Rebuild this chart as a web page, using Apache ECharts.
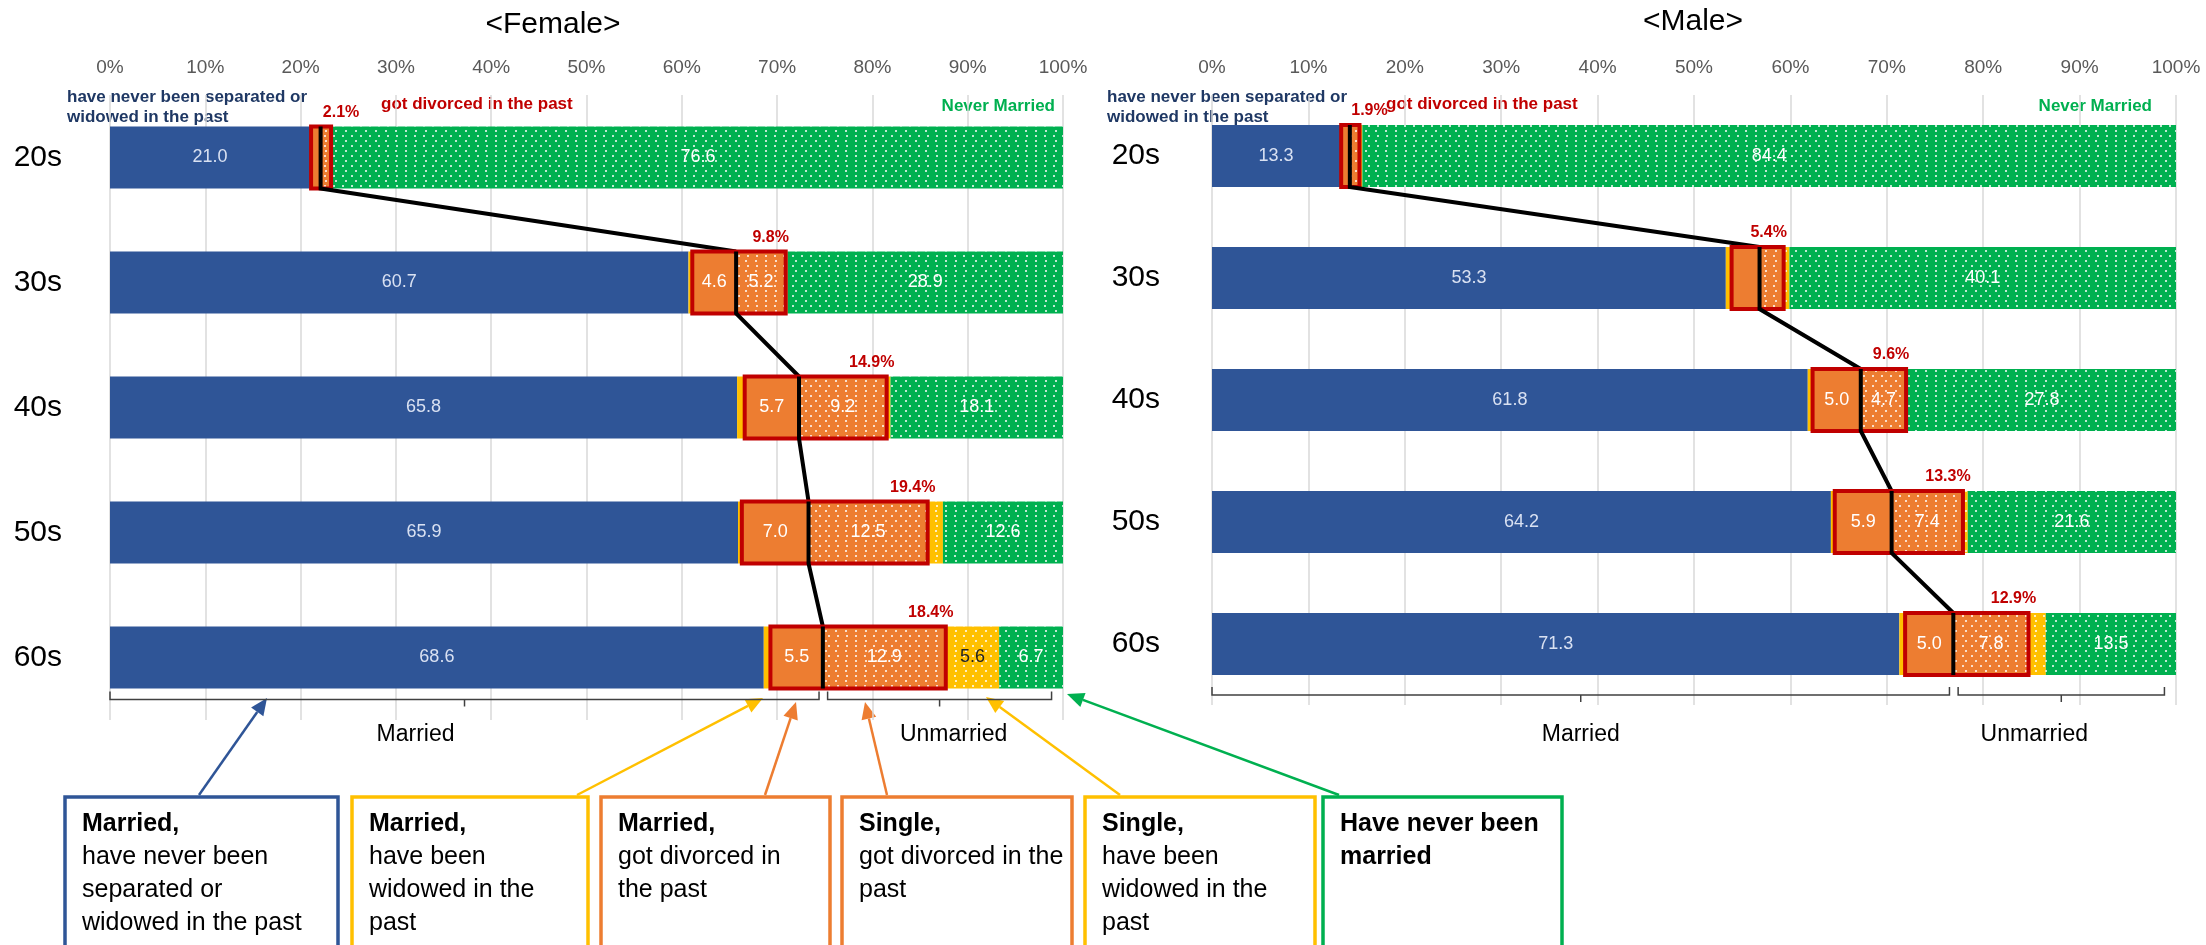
<!DOCTYPE html>
<html><head><meta charset="utf-8">
<script src="https://cdn.jsdelivr.net/npm/echarts@6/dist/echarts.min.js"></script>
<style>html,body{margin:0;padding:0;background:#fff}#c{width:2206px;height:945px}</style>
</head><body><div id="c"></div>
<script>
// ---------------- data ----------------
const ages = ['20s', '30s', '40s', '50s', '60s'];
const xTicks = [0, 10, 20, 30, 40, 50, 60, 70, 80, 90, 100];

// Female (%)
const fMarriedNeverSep  = [21.0, 60.7, 65.8, 65.9, 68.6];
const fMarriedWidowed   = [0.1, 0.4, 0.8, 0.4, 0.7];
const fMarriedDivorced  = [1.0, 4.6, 5.7, 7.0, 5.5];
const fSingleDivorced   = [1.1, 5.2, 9.2, 12.5, 12.9];
const fSingleWidowed    = [0.2, 0.2, 0.4, 1.6, 5.6];
const fNeverMarried     = [76.6, 28.9, 18.1, 12.6, 6.7];
const fDivorcedTotal    = [2.1, 9.8, 14.9, 19.4, 18.4];

// Male (%)
const mMarriedNeverSep  = [13.3, 53.3, 61.8, 64.2, 71.3];
const mMarriedWidowed   = [0.1, 0.6, 0.5, 0.4, 0.6];
const mMarriedDivorced  = [0.9, 2.9, 5.0, 5.9, 5.0];
const mSingleDivorced   = [1.0, 2.5, 4.7, 7.4, 7.8];
const mSingleWidowed    = [0.3, 0.6, 0.2, 0.5, 1.8];
const mNeverMarried     = [84.4, 40.1, 27.8, 21.6, 13.5];
const mDivorcedTotal    = [1.9, 5.4, 9.6, 13.3, 12.9];

// ---------------- styles ----------------
const C = {blue:'#2F5597', yellow:'#FFC000', orange:'#ED7D31', green:'#00B050', red:'#C00000', navy:'#1F3864'};
const FONT = '"Liberation Sans", Arial, sans-serif';
const dots = {symbol:'rect', symbolSize:1, color:'rgba(255,255,255,0.75)',
  dashArrayX:[[2,7],[0,4.5,2,2.5]], dashArrayY:[2,2.5]};
const BAR_H = 62;

function buildPanel(idx, d, cfg) {
  const grid = Object.assign({}, cfg.grid);
  const xAxis = {gridIndex:idx, type:'value', position:'top', min:xTicks[0], max:xTicks[xTicks.length - 1], interval:xTicks[1] - xTicks[0],
    axisLine:{show:false}, axisTick:{show:false},
    axisLabel:{formatter:v => v + '%', color:'#595959', fontSize:19, margin:18, fontFamily:FONT},
    splitLine:{show:true, lineStyle:{color:'#D9D9D9', width:1.5}}};
  const yAxis = {gridIndex:idx, type:'category', data:ages, inverse:true,
    axisLine:{show:false}, axisTick:{show:false},
    axisLabel:{color:'#000', fontSize:30, margin:cfg.catMargin, fontFamily:FONT},
    splitLine:{show:false}};
  const segs = [
    {v:d.mn, color:C.blue, lab:'#D9E1F2', decal:null},
    {v:d.mw, color:C.yellow, lab:'#333', decal:null},
    {v:d.md, color:C.orange, lab:'#fff', decal:null},
    {v:d.sd, color:C.orange, lab:'#fff', decal:dots},
    {v:d.sw, color:C.yellow, lab:'#222', decal:dots},
    {v:d.nm, color:C.green, lab:'#fff', decal:dots}
  ];
  const series = segs.map((s, k) => ({
    type:'bar', xAxisIndex:idx, yAxisIndex:idx, stack:'s' + idx, barWidth:BAR_H,
    data:s.v, z:2,
    itemStyle: Object.assign({color:s.color}, s.decal ? {decal:s.decal} : {}),
    label:{show:true, position:'inside', color:s.lab, fontSize:18, fontFamily:FONT,
      formatter:p => (p.value >= 4 ? p.value.toFixed(1) : '')},
    emphasis:{disabled:true}, animation:false
  }));
  // divorced boxes + connecting line
  const starts = ages.map((a, i) => d.mn[i] + d.mw[i]);
  const bounds = ages.map((a, i) => starts[i] + d.md[i]);
  const ends = ages.map((a, i) => bounds[i] + d.sd[i]);
  const boxData = ages.map((a, i) => [starts[i], ends[i], bounds[i], a, d.tot[i]]);
  series.push({
    type:'custom', xAxisIndex:idx, yAxisIndex:idx, z:5, clip:false, animation:false,
    encode:{x:[0,1,2], y:3},
    data:boxData,
    renderItem:(params, api) => {
      const s = api.value(0), e = api.value(1), b = api.value(2), c = api.value(3), tot = api.value(4);
      const p0 = api.coord([s, c]), p1 = api.coord([e, c]), pb = api.coord([b, c]);
      const top = p0[1] - BAR_H / 2, bot = p0[1] + BAR_H / 2;
      const pts = [[pb[0], top], [pb[0], bot]];
      if (c + 1 < ages.length) {
        const pn = api.coord([bounds[c + 1], c + 1]);
        pts.push([pn[0], pn[1] - BAR_H / 2]);
      }
      const w = p1[0] - p0[0];
      const lx = w < 40 ? p1[0] + 10 : p1[0] - 15;
      return {type:'group', children:[
        {type:'rect', shape:{x:p0[0], y:top, width:w, height:BAR_H},
          style:{fill:'none', stroke:C.red, lineWidth:4}},
        {type:'polyline', shape:{points:pts}, style:{fill:'none', stroke:'#000', lineWidth:4}},
        {type:'text', x:lx, y:top - 14,
          style:{text:tot.toFixed(1) + '%', fill:C.red, font:'bold 16px ' + FONT, align:'center', verticalAlign:'middle'}}
      ]};
    }
  });
  // brackets
  const b60 = bounds[ages.length - 1];
  series.push({
    type:'custom', xAxisIndex:idx, yAxisIndex:idx, z:4, clip:false, animation:false,
    encode:{x:0, y:1},
    data:[[b60, ages[ages.length - 1]]],
    renderItem:(params, api) => {
      const b = api.value(0), c = api.value(1);
      const y = api.coord([0, c])[1] + cfg.bracketDy;
      const brace = (x0, x1) => {
        const a = api.coord([x0, c])[0], z = api.coord([x1, c])[0], m = (a + z) / 2;
        return [
          {type:'polyline', shape:{points:[[a, y - 8], [a, y], [z, y], [z, y - 8]]}, style:{fill:'none', stroke:'#404040', lineWidth:1.5}},
          {type:'line', shape:{x1:m, y1:y, x2:m, y2:y + 7}, style:{stroke:'#404040', lineWidth:1.5}}
        ];
      };
      const uEnd = 98.8;
      const xm = api.coord([(b - 0.4) / 2, c])[0] + cfg.marriedDx;
      const xu = api.coord([(b + 0.5 + uEnd) / 2, c])[0] + cfg.unmarriedDx;
      return {type:'group', children:[].concat(
        brace(0, b - 0.4), brace(b + 0.5, uEnd),
        [{type:'text', x:xm, y:y + cfg.labelDy, style:{text:'Married', font:'23px ' + FONT, fill:'#000', align:'center', verticalAlign:'middle'}},
         {type:'text', x:xu, y:y + cfg.labelDy, style:{text:'Unmarried', font:'23px ' + FONT, fill:'#000', align:'center', verticalAlign:'middle'}}]
      )};
    }
  });
  return {grid, xAxis, yAxis, series};
}

const female = buildPanel(0, {mn:fMarriedNeverSep, mw:fMarriedWidowed, md:fMarriedDivorced, sd:fSingleDivorced, sw:fSingleWidowed, nm:fNeverMarried, tot:fDivorcedTotal},
  {grid:{left:110, top:95, width:953, height:625}, catMargin:48, bracketDy:42, labelDy:35, marriedDx:-49, unmarriedDx:14});
const male = buildPanel(1, {mn:mMarriedNeverSep, mw:mMarriedWidowed, md:mMarriedDivorced, sd:mSingleDivorced, sw:mSingleWidowed, nm:mNeverMarried, tot:mDivorcedTotal},
  {grid:{left:1212, top:95, width:964, height:610}, catMargin:52, bracketDy:51, labelDy:40, marriedDx:0, unmarriedDx:-27});

// ---------------- annotations ----------------
function arrow(x1, y1, x2, y2, color) {
  const dx = x2 - x1, dy = y2 - y1, L = Math.hypot(dx, dy), ux = dx / L, uy = dy / L;
  const hl = 17, hw = 7.5, bx = x2 - ux * hl, by = y2 - uy * hl;
  return [
    {type:'line', shape:{x1, y1, x2:bx, y2:by}, style:{stroke:color, lineWidth:2.5}},
    {type:'polygon', shape:{points:[[x2, y2], [bx - uy * hw, by + ux * hw], [bx + uy * hw, by - ux * hw]]}, style:{fill:color}}
  ];
}
function box(x, w, color, text) {
  return [
    {type:'rect', shape:{x, y:797, width:w, height:170}, style:{fill:'#fff', stroke:color, lineWidth:3.5}},
    {type:'text', x:x + 17, y:808, style:{text, fill:'#000', font:'25px ' + FONT, lineHeight:33,
      rich:{b:{font:'bold 25px ' + FONT, lineHeight:33, fill:'#000'}}}}
  ];
}
const header = (x, y, text, color, align) => ({type:'text', x, y,
  style:{text, fill:color, font:'bold 17px ' + FONT, align:align || 'left', verticalAlign:'middle', lineHeight:20}});

const graphic = [].concat(
  [{type:'text', x:553, y:25, style:{text:'<Female>', font:'30px ' + FONT, fill:'#000', align:'center', verticalAlign:'middle'}},
   {type:'text', x:1693, y:22, style:{text:'<Male>', font:'30px ' + FONT, fill:'#000', align:'center', verticalAlign:'middle'}},
   header(67, 107, 'have never been separated or\nwidowed in the past', C.navy),
   header(381, 104, 'got divorced in the past', C.red),
   header(1055, 106, 'Never Married', C.green, 'right'),
   header(1107, 107, 'have never been separated or\nwidowed in the past', C.navy),
   header(1386, 104, 'got divorced in the past', C.red),
   header(2152, 106, 'Never Married', C.green, 'right')],
  arrow(199, 795, 267, 698, C.blue),
  arrow(577, 795, 763, 698, C.yellow),
  arrow(765, 795, 796, 702, C.orange),
  arrow(887, 795, 865, 702, C.orange),
  arrow(1120, 795, 986, 697, C.yellow),
  arrow(1339, 795, 1067, 694, C.green),
  box(65, 273, C.blue, '{b|Married,}\nhave never been\nseparated or\nwidowed in the past'),
  box(352, 236, C.yellow, '{b|Married,}\nhave been\nwidowed in the\npast'),
  box(601, 229, C.orange, '{b|Married,}\ngot divorced in\nthe past'),
  box(842, 230, C.orange, '{b|Single,}\ngot divorced in the\npast'),
  box(1085, 230, C.yellow, '{b|Single,}\nhave been\nwidowed in the\npast'),
  box(1323, 239, C.green, '{b|Have never been}\n{b|married}')
);

const chart = echarts.init(document.getElementById('c'), null, {renderer:'canvas'});
chart.setOption({
  animation:false,
  backgroundColor:'#fff',
  textStyle:{fontFamily:FONT},
  grid:[female.grid, male.grid],
  xAxis:[female.xAxis, male.xAxis],
  yAxis:[female.yAxis, male.yAxis],
  series:female.series.concat(male.series),
  graphic:graphic
});
</script></body></html>
